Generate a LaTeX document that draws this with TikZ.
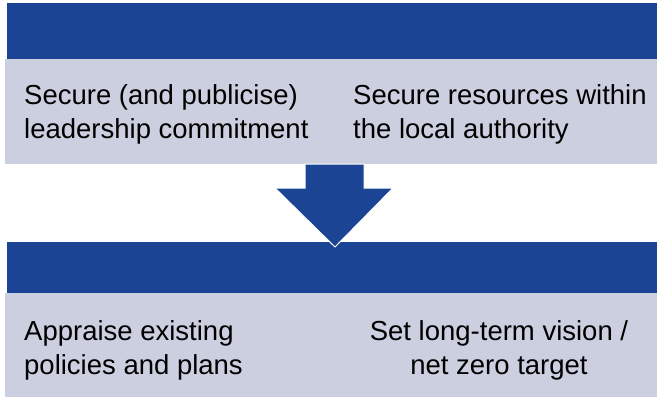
\documentclass[tikz,border=0pt]{standalone}
\usepackage{fontspec}
\setmainfont{Liberation Sans}
\usetikzlibrary{positioning}
\definecolor{barblue}{RGB}{27,69,148}
\definecolor{boxgrey}{RGB}{204,207,223}

\begin{document}
\begin{tikzpicture}[x=1pt, y=-1pt,
  every node/.style = {inner sep=0pt, font=\fontsize{27.5}{34}\selectfont},
  bar/.style = {fill=barblue, minimum width=650pt},
  panel/.style = {fill=boxgrey, minimum width=652pt}]

  \useasboundingbox (0,0) rectangle (657,397);

  \node[bar, minimum height=56pt] (topbar) at (332,31) {};
  \node[panel, minimum height=105pt] (toppanel) at (331,111.5) {};
  \node[bar, minimum height=51pt] (lowbar) at (332,267.5) {};
  \node[panel, minimum height=104pt] (lowpanel) at (331,345) {};

  \node[anchor=west, align=left] (lead) at (24,114)
    {Secure (and publicise)\\leadership commitment};
  \node[anchor=west, align=left] (resources) at (353,114)
    {Secure resources within\\the local authority};
  \node[anchor=west, align=left] (appraise) at (24,350)
    {Appraise existing\\policies and plans};
  \node[align=center] (vision) at (499,350)
    {Set long-term vision /\\net zero target};

  \fill[barblue, draw=white, line width=1pt] (305,164) -- (364,164) -- (364,188)
    -- (393,188) -- (335,247) -- (275,188) -- (305,188) -- cycle;
\end{tikzpicture}
\end{document}
